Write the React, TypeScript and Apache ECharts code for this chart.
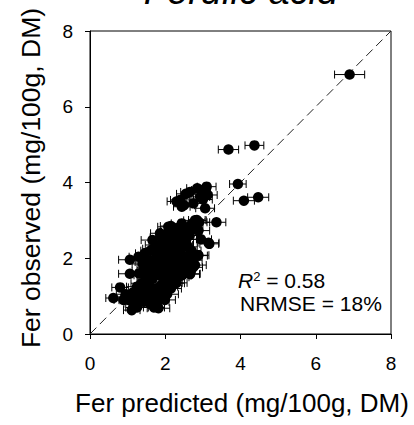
import { useEffect, useRef } from "react";
import * as echarts from "echarts";

const chartTitle = "Ferulic acid";
const xTitle = "Fer predicted (mg/100g, DM)";
const yTitle = "Fer observed (mg/100g, DM)";
const axisMin = 0;
const axisMax = 8;
const axisStep = 2;
const r2Value = "0.58";
const nrmseValue = "18%";

// predicted (x), observed (y), horizontal error half-width
const predicted = [
  6.9, 3.68, 4.37, 3.93, 4.09, 4.47, 3.36, 3.17,
  2.66, 3.1, 3.13, 2.93, 2.39, 2.44, 3.06, 2.84, 2.95,
  2.55, 2.85, 3.0, 2.5, 2.3, 2.75,
  0.62, 0.8, 0.89, 1.02, 1.11, 1.15, 1.25, 1.3, 1.4, 1.37, 1.5, 1.55, 1.6, 1.7,
  1.82, 1.99, 1.9, 1.75, 1.65, 1.45, 1.3, 1.06, 1.06, 1.29, 1.46, 1.4, 1.55, 1.6,
  1.68, 1.66, 1.8, 1.86, 1.95, 2.08, 2.0, 2.1, 2.2, 2.3, 2.44, 2.35, 2.55, 2.65,
  2.79, 2.9, 2.75, 2.88, 3.15, 2.5, 2.4, 2.6, 2.25, 2.15, 2.05, 1.95, 1.85, 2.0,
  2.1, 2.2, 2.3, 2.45, 2.66, 2.79, 2.88, 2.74, 2.87, 2.65, 2.44, 2.26, 2.15, 2.05,
  1.9, 2.35, 2.55, 2.7, 2.95, 2.5, 1.75, 1.85, 2.0, 2.18, 2.05, 1.7,
  1.2, 1.35, 1.45, 1.55, 1.65, 1.8, 1.85, 1.95, 2.05, 2.15, 2.25, 2.35, 2.4, 2.3,
  2.2, 2.1, 1.95, 1.85, 1.75, 1.7, 1.6, 1.5, 1.4, 1.5, 1.6, 1.75, 1.9, 2.05, 2.15,
  2.3, 2.45, 2.55, 2.6, 2.7, 2.45, 2.35, 2.6, 2.7, 2.55, 2.45, 2.3, 2.15, 1.98,
  1.88, 2.1, 2.0, 1.25, 1.15, 0.95, 1.7, 1.25,
];
const observed = [
  6.85, 4.87, 4.98, 3.96, 3.52, 3.61, 2.95, 2.38,
  3.75, 3.89, 3.67, 3.62, 3.54, 3.36, 3.32, 3.01, 3.8,
  3.7, 3.85, 3.55, 3.4, 3.5, 3.45,
  0.95, 1.23, 0.9, 0.9, 0.63, 0.8, 1.05, 0.85, 1.2, 1.34, 1.0, 1.3, 0.8, 0.95,
  0.68, 0.9, 1.1, 1.2, 1.45, 1.55, 1.6, 1.59, 1.96, 2.04, 2.13, 1.85, 1.75, 1.95,
  2.25, 2.48, 2.1, 2.66, 2.45, 2.83, 2.6, 2.4, 2.7, 2.55, 2.92, 2.8, 2.75, 2.6,
  3.0, 2.95, 2.8, 2.73, 2.41, 2.4, 2.2, 2.3, 2.25, 2.05, 1.9, 1.75, 1.55, 1.4,
  1.6, 1.8, 1.95, 2.05, 1.58, 1.82, 2.08, 1.76, 2.07, 1.59, 1.78, 1.34, 1.2, 1.05,
  1.3, 1.5, 1.95, 2.2, 2.5, 1.7, 1.85, 2.3, 2.2, 2.55, 1.25, 1.65,
  0.95, 1.0, 0.85, 1.1, 1.2, 0.85, 1.0, 1.25, 1.45, 1.5, 1.65, 1.7, 1.9, 2.1,
  2.15, 2.25, 2.05, 1.9, 2.0, 1.8, 1.6, 1.45, 1.65, 1.9, 2.2, 2.35, 2.55, 2.65, 2.85,
  2.75, 2.6, 2.5, 2.7, 2.9, 2.35, 2.4, 2.05, 1.95, 1.8, 1.55, 1.35, 1.35, 1.6,
  1.75, 1.75, 2.0, 1.25, 1.1, 1.05, 0.7, 0.7,
];
const errors = [
  0.4, 0.27, 0.25, 0.22, 0.28, 0.28, 0.25, 0.25,
  0.25, 0.25, 0.25, 0.25, 0.25, 0.22, 0.25, 0.22, 0.25,
  0.25, 0.28, 0.25, 0.28, 0.25, 0.3,
  0.2, 0.22, 0.25, 0.25, 0.22, 0.25, 0.28, 0.25, 0.25, 0.28, 0.25, 0.3, 0.28, 0.25,
  0.3, 0.28, 0.25, 0.3, 0.25, 0.28, 0.25, 0.3, 0.3, 0.25, 0.25, 0.28, 0.3, 0.25,
  0.28, 0.3, 0.25, 0.25, 0.3, 0.28, 0.25, 0.28, 0.3, 0.25, 0.28, 0.3, 0.25, 0.28,
  0.3, 0.28, 0.25, 0.3, 0.28, 0.25, 0.3, 0.25, 0.28, 0.3, 0.25, 0.28, 0.3, 0.25,
  0.28, 0.25, 0.3, 0.28, 0.25, 0.3, 0.28, 0.25, 0.25, 0.28, 0.3, 0.25, 0.28, 0.3,
  0.25, 0.28, 0.3, 0.25, 0.28, 0.3, 0.25, 0.28, 0.3, 0.25, 0.28, 0.25,
  0.25, 0.28, 0.3, 0.25, 0.28, 0.3, 0.25, 0.28, 0.3, 0.25, 0.28, 0.3, 0.25, 0.28,
  0.3, 0.25, 0.28, 0.3, 0.25, 0.28, 0.3, 0.25, 0.28, 0.3, 0.25, 0.28, 0.3, 0.25, 0.28,
  0.3, 0.25, 0.28, 0.3, 0.25, 0.28, 0.3, 0.25, 0.28, 0.3, 0.25, 0.28, 0.3, 0.25,
  0.28, 0.3, 0.25, 0.28, 0.3, 0.25, 0.28, 0.3,
];
const identityLine = [
  [0, 0],
  [8, 8],
];

const FONT = "'Liberation Sans', Arial, sans-serif";

export default function App() {
  const ref = useRef<HTMLDivElement>(null);
  useEffect(() => {
    if (!ref.current) return;
    const chart = echarts.init(ref.current, null, { renderer: "svg" });
    const pts = predicted.map((x, i) => [x, observed[i], errors[i]]);
    const axisCommon = {
      type: "value",
      min: axisMin,
      max: axisMax,
      interval: axisStep,
      axisLine: { show: true, lineStyle: { color: "#000", width: 1 } },
      axisTick: { show: true, length: 5, inside: false, lineStyle: { color: "#000", width: 1 } },
      splitLine: { show: false },
    };
    chart.setOption({
      animation: false,
      backgroundColor: "#fff",
      grid: {
        left: 90,
        top: 31,
        width: 301,
        height: 303,
        show: true,
        borderColor: "#000",
        borderWidth: 1,
        backgroundColor: "transparent",
      },
      xAxis: {
        ...axisCommon,
        axisLabel: { color: "#000", fontSize: 19, margin: 20, fontFamily: FONT },
      },
      yAxis: {
        ...axisCommon,
        axisLabel: { color: "#000", fontSize: 19, margin: 17, fontFamily: FONT },
      },
      series: [
        {
          type: "line",
          data: identityLine,
          symbol: "none",
          lineStyle: { color: "#222", width: 1, type: [9, 5] },
          z: 1,
          silent: true,
        },
        {
          type: "custom",
          data: pts,
          encode: { x: 0, y: 1 },
          z: 2,
          renderItem: (_params: any, api: any) => {
            const x = api.value(0);
            const y = api.value(1);
            const e = api.value(2);
            const l = api.coord([x - e, y]);
            const r = api.coord([x + e, y]);
            const cap = 4;
            const st = { stroke: "#000", lineWidth: 1 };
            return {
              type: "group",
              children: [
                { type: "line", shape: { x1: l[0], y1: l[1], x2: r[0], y2: r[1] }, style: st },
                { type: "line", shape: { x1: l[0], y1: l[1] - cap, x2: l[0], y2: l[1] + cap }, style: st },
                { type: "line", shape: { x1: r[0], y1: r[1] - cap, x2: r[0], y2: r[1] + cap }, style: st },
              ],
            };
          },
        },
        {
          type: "scatter",
          data: pts,
          encode: { x: 0, y: 1 },
          symbol: "circle",
          symbolSize: 10.5,
          itemStyle: { color: "#000", opacity: 1 },
          z: 3,
        },
      ],
      graphic: [
        {
          type: "text",
          x: 241,
          y: -9,
          style: {
            text: chartTitle,
            fontSize: 38,
            fontStyle: "italic",
            fontFamily: FONT,
            fill: "#000",
            align: "center",
            verticalAlign: "middle",
          },
        },
        {
          type: "text",
          x: 242,
          y: 403,
          style: {
            text: xTitle,
            fontSize: 26,
            fontFamily: FONT,
            fill: "#000",
            align: "center",
            verticalAlign: "middle",
          },
        },
        {
          type: "text",
          x: 31,
          y: 178,
          rotation: Math.PI / 2,
          style: {
            text: yTitle,
            fontSize: 26.5,
            fontFamily: FONT,
            fill: "#000",
            align: "center",
            verticalAlign: "middle",
          },
        },
        {
          type: "text",
          x: 238,
          y: 280,
          style: {
            text: "{i|R}{s|2}{n| = " + r2Value + "}",
            fill: "#000",
            align: "left",
            verticalAlign: "middle",
            rich: {
              i: { fontSize: 21, fontStyle: "italic", fontFamily: FONT, fill: "#000", lineHeight: 21 },
              s: { fontSize: 13, fontFamily: FONT, fill: "#000", lineHeight: 13, verticalAlign: "top" },
              n: { fontSize: 21, fontFamily: FONT, fill: "#000", lineHeight: 21 },
            },
          },
        },
        {
          type: "text",
          x: 240,
          y: 303,
          style: {
            text: "NRMSE = " + nrmseValue,
            fontSize: 21,
            fontFamily: FONT,
            fill: "#000",
            align: "left",
            verticalAlign: "middle",
          },
        },
      ],
    });
    return () => chart.dispose();
  }, []);
  return (
    <div
      ref={ref}
      style={{ position: "fixed", left: 0, top: 0, width: 414, height: 425 }}
    />
  );
}
